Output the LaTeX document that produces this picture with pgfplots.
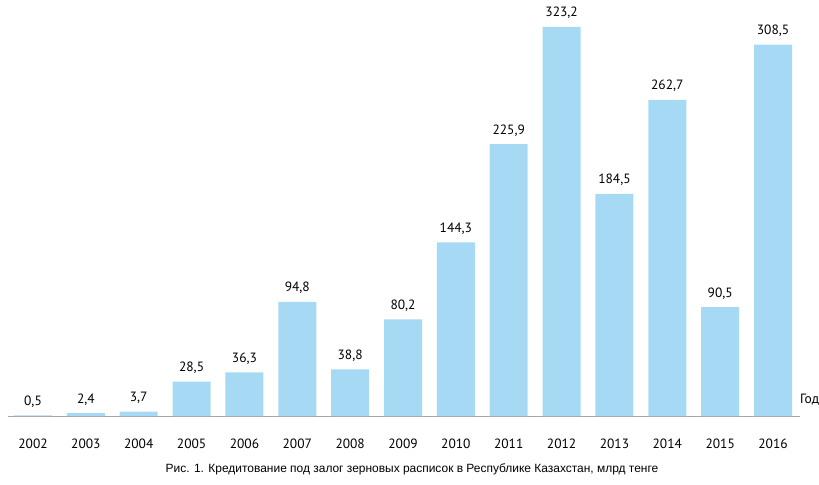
\documentclass[border=0pt]{standalone}
\usepackage{fontspec}
\setmainfont{PT Sans}
\newfontfamily\capfont{Liberation Sans}
\usepackage{pgfplots}
\pgfplotsset{compat=1.18}
\definecolor{barblue}{RGB}{166,218,244}
\begin{document}
\begin{tikzpicture}
\useasboundingbox (-33bp,-69bp) rectangle (786bp,416bp);
\begin{axis}[
    at={(0,0)}, anchor=origin,
    x=52.86bp, y=1.2036bp,
    xmin=-0.47, xmax=14.51,
    ymin=0, ymax=330,
    axis x line=bottom,
    axis y line=none,
    x axis line style={-, draw=gray!70, line width=1bp},
    xtick=data,
    xticklabels={2002,2003,2004,2005,2006,2007,2008,2009,2010,2011,2012,2013,2014,2015,2016},
    major tick length=0pt,
    xticklabel style={font=\fontsize{13.5}{15}\selectfont, anchor=base, inner sep=0pt, yshift=-32bp},
    ybar, bar width=38bp,
    nodes near coords,
    nodes near coords style={font=\fontsize{13.5}{15}\selectfont, anchor=base, inner sep=0pt, yshift=10bp,
        /pgf/number format/.cd, fixed, fixed zerofill, precision=1, use comma, assume math mode=true},
    clip=false,
]
\addplot[fill=barblue, draw=none] coordinates {
    (0,0.5) (1,2.4) (2,3.7) (3,28.5) (4,36.3) (5,94.8) (6,38.8) (7,80.2)
    (8,144.3) (9,225.9) (10,323.2) (11,184.5) (12,262.7) (13,90.5) (14,308.5)
};
\node[anchor=base west, font=\fontsize{13.5}{15}\selectfont, inner sep=0pt]
    at (axis cs:14.51,0) [xshift=0bp, yshift=13bp] {Год};
\node[anchor=base, font=\capfont\fontsize{12}{14}\selectfont, inner sep=0pt]
    at (axis cs:7.17,0) [yshift=-56bp] {Рис. 1. Кредитование под залог зерновых расписок в Республике Казахстан, млрд тенге};
\end{axis}
\end{tikzpicture}
\end{document}
